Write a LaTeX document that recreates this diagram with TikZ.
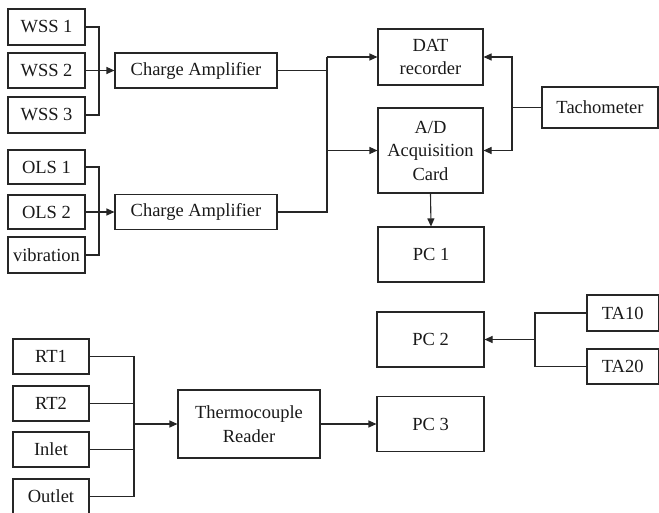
\documentclass[tikz,border=0pt]{standalone}
\usepackage{fontspec}
\setmainfont{Liberation Serif}
\usetikzlibrary{arrows.meta}
\begin{document}
\begin{tikzpicture}[x=1pt,y=-1pt,
  box/.style={draw=black!85, line width=1.1pt, inner sep=0pt, align=center,
    font=\fontsize{18.5}{23.5}\selectfont, text=black!90},
  ln/.style={draw=black!85, line width=1.1pt},
  arr/.style={ln, -{Triangle[length=8pt,width=7pt]}}]
\useasboundingbox (0,0) rectangle (659,513);
% group 1
\node[box, minimum width=77pt, minimum height=36pt] (wss1) at (46.5,27) {WSS 1};
\node[box, minimum width=77pt, minimum height=35pt] (wss2) at (46.5,70.5) {WSS 2};
\node[box, minimum width=77pt, minimum height=36pt] (wss3) at (46.5,115) {WSS 3};
\node[box, minimum width=162pt, minimum height=35pt] (ca1) at (196,70.5) {Charge Amplifier};
\node[box, minimum width=77pt, minimum height=34pt] (ols1) at (46.5,167) {OLS 1};
\node[box, minimum width=77pt, minimum height=34pt] (ols2) at (46.5,212) {OLS 2};
\node[box, minimum width=77pt, minimum height=36pt] (vib) at (46.5,255) {vibration};
\node[box, minimum width=162pt, minimum height=35pt] (ca2) at (196,212) {Charge Amplifier};
\node[box, minimum width=105pt, minimum height=56pt] (dat) at (430.5,57) {DAT\\recorder};
\node[box, minimum width=105pt, minimum height=85pt] (ad) at (430.5,150.5) {A/D\\Acquisition\\Card};
\node[box, minimum width=116pt, minimum height=41pt] (tach) at (600,107.5) {Tachometer};
\node[box, minimum width=106pt, minimum height=55pt] (pc1) at (431,254.5) {PC 1};
% group 2
\node[box, minimum width=107pt, minimum height=55pt] (pc2) at (430.5,339.5) {PC 2};
\node[box, minimum width=71.5pt, minimum height=36pt] (ta10) at (622.75,313) {TA10};
\node[box, minimum width=71.5pt, minimum height=35pt] (ta20) at (622.75,366.5) {TA20};
\node[box, minimum width=107pt, minimum height=55pt] (pc3) at (430.5,424) {PC 3};
\node[box, minimum width=76pt, minimum height=35pt] (rt1) at (51,356.5) {RT1};
\node[box, minimum width=76pt, minimum height=35pt] (rt2) at (51,403.5) {RT2};
\node[box, minimum width=76pt, minimum height=35pt] (inlet) at (51,449.5) {Inlet};
\node[box, minimum width=76pt, minimum height=35pt] (outlet) at (51,496.5) {Outlet};
\node[box, minimum width=142pt, minimum height=68pt] (tc) at (249,424) {Thermocouple\\Reader};
% junctions
\coordinate (b1) at (99,70.5);
\coordinate (b2) at (99,212);
\coordinate (j) at (327,57);
\coordinate (t) at (512,107.5);
\coordinate (b3) at (535,339.5);
\coordinate (b4) at (134,424);
% connectors
\draw[ln] (wss1.east) -| (b1);
\draw[ln] (wss3.east) -| (b1);
\draw[arr] (wss2.east) -- (ca1.west);
\draw[ln] (ols1.east) -| (b2);
\draw[ln] (vib.east) -| (b2);
\draw[arr] (ols2.east) -- (ca2.west);
\draw[ln] (ca2.east) -| (j);
\draw[ln] (ca1.east) -- (ca1.east -| j);
\draw[arr] (j) -- (dat.west);
\draw[arr] (ad.west -| j) -- (ad.west);
\draw[ln] (tach.west) -- (t);
\draw[arr] (t) |- (dat.east);
\draw[arr] (t) |- (ad.east);
\draw[arr] (ad.south) -- (pc1.north);
\draw[ln] (ta10.west) -| (b3);
\draw[ln] (ta20.west) -| (b3);
\draw[arr] (b3) -- (pc2.east);
\draw[ln] (rt1.east) -| (b4);
\draw[ln] (outlet.east) -| (b4);
\draw[ln] (rt2.east) -- (rt2.east -| b4);
\draw[ln] (inlet.east) -- (inlet.east -| b4);
\draw[arr] (b4) -- (tc.west);
\draw[arr] (tc.east) -- (pc3.west);
\end{tikzpicture}
\end{document}
